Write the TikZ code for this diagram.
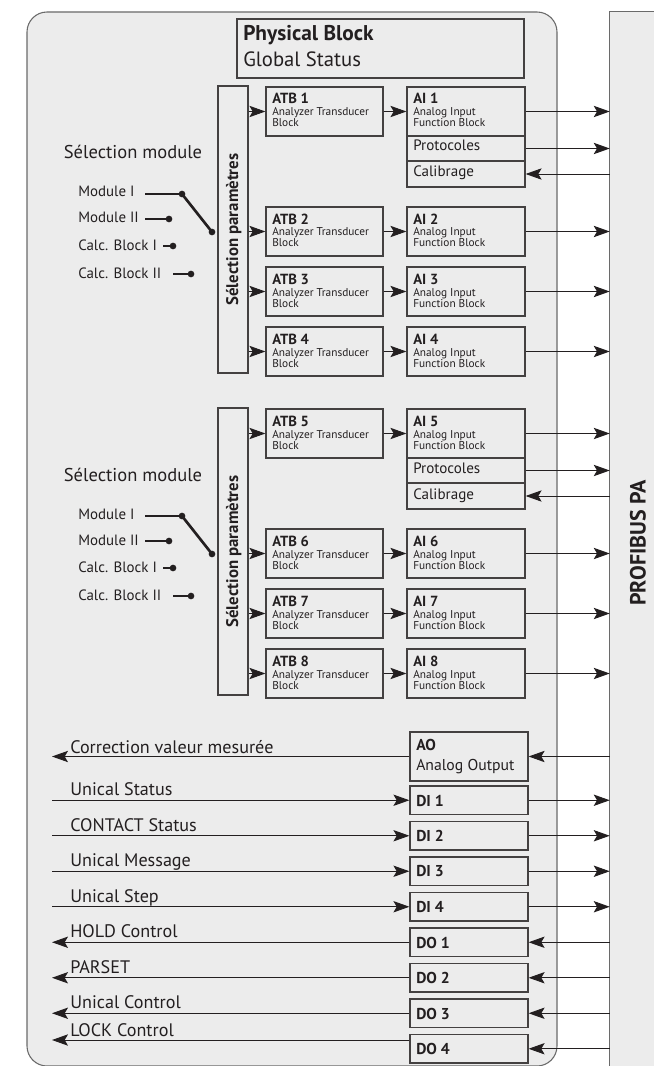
\documentclass[tikz,border=0pt]{standalone}
\usepackage{fontspec}
\setmainfont{PT Sans}
\usetikzlibrary{arrows.meta,fit}
\definecolor{panel}{HTML}{ECECEC}
\definecolor{edge}{HTML}{6A6A6A}
\definecolor{ink}{HTML}{231F20}
\begin{document}
\begin{tikzpicture}[x=0.75pt,y=-0.75pt,
  boxst/.style={draw=ink!85, line width=0.9pt, fill=panel, inner sep=0pt},
  arr/.style={-{Stealth[length=12pt,width=8.5pt,inset=2.5pt]}, line width=0.7pt, draw=ink},
  ln/.style={line width=0.7pt, draw=ink},
  ttl/.style={anchor=base west, inner sep=0pt, text=ink, font=\bfseries\fontsize{11}{12}\selectfont},
  sml/.style={anchor=base west, inner sep=0pt, text=ink, font=\fontsize{8.5}{9}\selectfont},
  mid/.style={anchor=base west, inner sep=0pt, text=ink, font=\fontsize{11.3}{13}\selectfont},
  lbl/.style={anchor=base west, inner sep=0pt, text=ink, font=\fontsize{13.6}{15}\selectfont},
  swl/.style={anchor=base west, inner sep=0pt, text=ink, font=\fontsize{11.2}{12}\selectfont},
  bot/.style={anchor=west, inner sep=0pt, text=ink, font=\bfseries\fontsize{11.8}{13}\selectfont},
  dot/.style={circle, fill=ink, inner sep=0pt, minimum size=5pt}]
\useasboundingbox (0,0) rectangle (653,1066);
\fill[white] (0,0) rectangle (653,1066);
% main panel
\draw[edge, fill=panel, line width=0.8pt, rounded corners=15pt] (27,12) rectangle (557,1066);
% PROFIBUS panel
\node[fill=panel, inner sep=0pt, fit={(610,12) (660,1072)}] (pb) {};
\draw[edge, line width=0.9pt] (pb.south west) -- (pb.north west) -- (pb.north east);
\node[rotate=90, text=ink, font=\bfseries\fontsize{16.5}{18}\selectfont] (pbt) at (638,543) {PROFIBUS PA};
% Physical block
\node[boxst, fit={(237,19) (524,78)}] (phys) {};
\node[anchor=base west, inner sep=0pt, text=ink, font=\bfseries\fontsize{16}{18}\selectfont] (physa) at (243,41) {Physical Block};
\node[anchor=base west, inner sep=0pt, text=ink, font=\fontsize{15.5}{17}\selectfont] (physb) at (243,67) {Global Status};
% selection parametres boxes
\node[boxst, fit={(218,86) (248,373)}] (sel1) {};
\node[rotate=90, text=ink, font=\bfseries\fontsize{12.6}{14}\selectfont] (sel1t) at ([xshift=0.5pt]sel1.center) {Sélection paramètres};
\node[boxst, fit={(218,408) (248,695)}] (sel2) {};
\node[rotate=90, text=ink, font=\bfseries\fontsize{12.6}{14}\selectfont] (sel2t) at ([xshift=0.5pt]sel2.center) {Sélection paramètres};
% ATB and AI rows
\foreach \n/\t/\s in {1/87/1,2/207/1,3/267/1,4/327/1,5/409/2,6/529/2,7/589/2,8/649/2} {
  \node[boxst, fit={(266,\t) (383,\t+49)}] (atb\n) {};
  \node[ttl] (atbt\n) at (272,\t+17) {ATB \n};
  \node[sml] (atba\n) at (272,\t+29) {Analyzer Transducer};
  \node[sml] (atbb\n) at (272,\t+40) {Block};
  \node[boxst, fit={(407,\t) (525,\t+49)}] (ai\n) {};
  \node[ttl] (ait\n) at (413,\t+17) {AI \n};
  \node[sml] (aia\n) at (413,\t+29) {Analog Input};
  \node[sml] (aib\n) at (413,\t+40) {Function Block};
  \draw[arr] (sel\s.east |- atb\n.west) -- (atb\n.west);
  \draw[arr] (atb\n.east) -- (ai\n.west |- atb\n.east);
  \draw[arr] (ai\n.east) -- (pb.west |- ai\n.east);
}
% Protocoles / Calibrage
\foreach \n/\t in {1/87,5/409} {
  \node[boxst, fit={(407,\t+49) (525,\t+74)}] (pro\n) {};
  \node[mid] (prot\n) at (413,\t+64) {Protocoles};
  \node[boxst, fit={(407,\t+74) (525,\t+100)}] (cal\n) {};
  \node[mid] (calt\n) at (413,\t+90) {Calibrage};
  \draw[arr] (pro\n.east) -- (pb.west |- pro\n.east);
  \draw[arr] (pb.west |- cal\n.east) -- (cal\n.east);
}
% switches
\foreach \g/\o in {1/0,2/322} {
  \node[anchor=base, inner sep=0pt, text=ink, font=\fontsize{13.9}{15}\selectfont] (sm\g) at (133,159+\o) {Sélection module};
  \node[swl] (m1t\g) at (78,197+\o) {Module I};
  \node[swl] (m2t\g) at (78,223+\o) {Module II};
  \node[swl] (c1t\g) at (78,250+\o) {Calc. Block I};
  \node[swl] (c2t\g) at (78,278+\o) {Calc. Block II};
  \node[dot] (m1d\g) at (182,194+\o) {};
  \node[dot] (m2d\g) at (169,219+\o) {};
  \node[dot] (c1d\g) at (173,246+\o) {};
  \node[dot] (c2d\g) at (191,274+\o) {};
  \node[dot] (pv\g) at (212,232+\o) {};
  \coordinate (m1s\g) at (145,194+\o);
  \coordinate (m2s\g) at (145,219+\o);
  \coordinate (c1s\g) at (163,246+\o);
  \coordinate (c2s\g) at (173,274+\o);
  \draw[ln, line width=1.1pt] (m1s\g) -- (m1d\g.center);
  \draw[ln, line width=1.1pt] (m2s\g) -- (m2d\g.center);
  \draw[ln, line width=1.1pt] (c1s\g) -- (c1d\g.center);
  \draw[ln, line width=1.1pt] (c2s\g) -- (c2d\g.center);
  \draw[ln, line width=2pt] (m1d\g.center) -- (pv\g.center);
}
% bottom blocks
\coordinate (lft) at (52,0);
\coordinate (lky) at (0,1040);
\node[boxst, fit={(410,732) (528,781)}] (ao) {};
\node[anchor=base west, inner sep=0pt, text=ink, font=\bfseries\fontsize{11.8}{13}\selectfont] (aot) at (416,750) {AO};
\node[anchor=base west, inner sep=0pt, text=ink, font=\fontsize{11.8}{13}\selectfont] (aoa) at (416,770) {Analog Output};
\draw[arr] (pb.west |- ao.east) -- (ao.east);
\draw[arr] (ao.west) -- (lft |- ao.west);
\node[lbl] (aol) at (70,753) {Correction valeur mesurée};
\foreach \n/\t/\l in {1/786/Unical Status,2/821.5/CONTACT Status,3/857/Unical Message,4/892.5/Unical Step} {
  \node[boxst, fit={(410,\t) (528,\t+28.5)}] (di\n) {};
  \node[bot] (dit\n) at (416,\t+14.5) {DI \n};
  \draw[arr] (lft |- di\n.west) -- (di\n.west);
  \draw[arr] (di\n.east) -- (pb.west |- di\n.east);
  \node[lbl] (dil\n) at (70,\t+9.5) {\l};
}
\foreach \n/\t/\l in {1/928/HOLD Control,2/963.5/PARSET,3/999/Unical Control} {
  \node[boxst, fit={(410,\t) (528,\t+28.5)}] (do\n) {};
  \node[bot] (dot\n) at (416,\t+14.5) {DO \n};
  \draw[arr] (pb.west |- do\n.east) -- (do\n.east);
  \draw[arr] (do\n.west) -- (lft |- do\n.west);
  \node[lbl] (dol\n) at (70,\t+9.5) {\l};
}
\node[boxst, fit={(410,1034.5) (528,1063)}] (do4) {};
\node[bot] (dot4) at (416,1049) {DO 4};
\draw[arr] (pb.west |- do4.east) -- (do4.east);
\draw[arr] (do4.west |- lky) -- (lft |- lky);
\node[lbl] (dol4) at (70,1036) {LOCK Control};
\end{tikzpicture}
\end{document}
